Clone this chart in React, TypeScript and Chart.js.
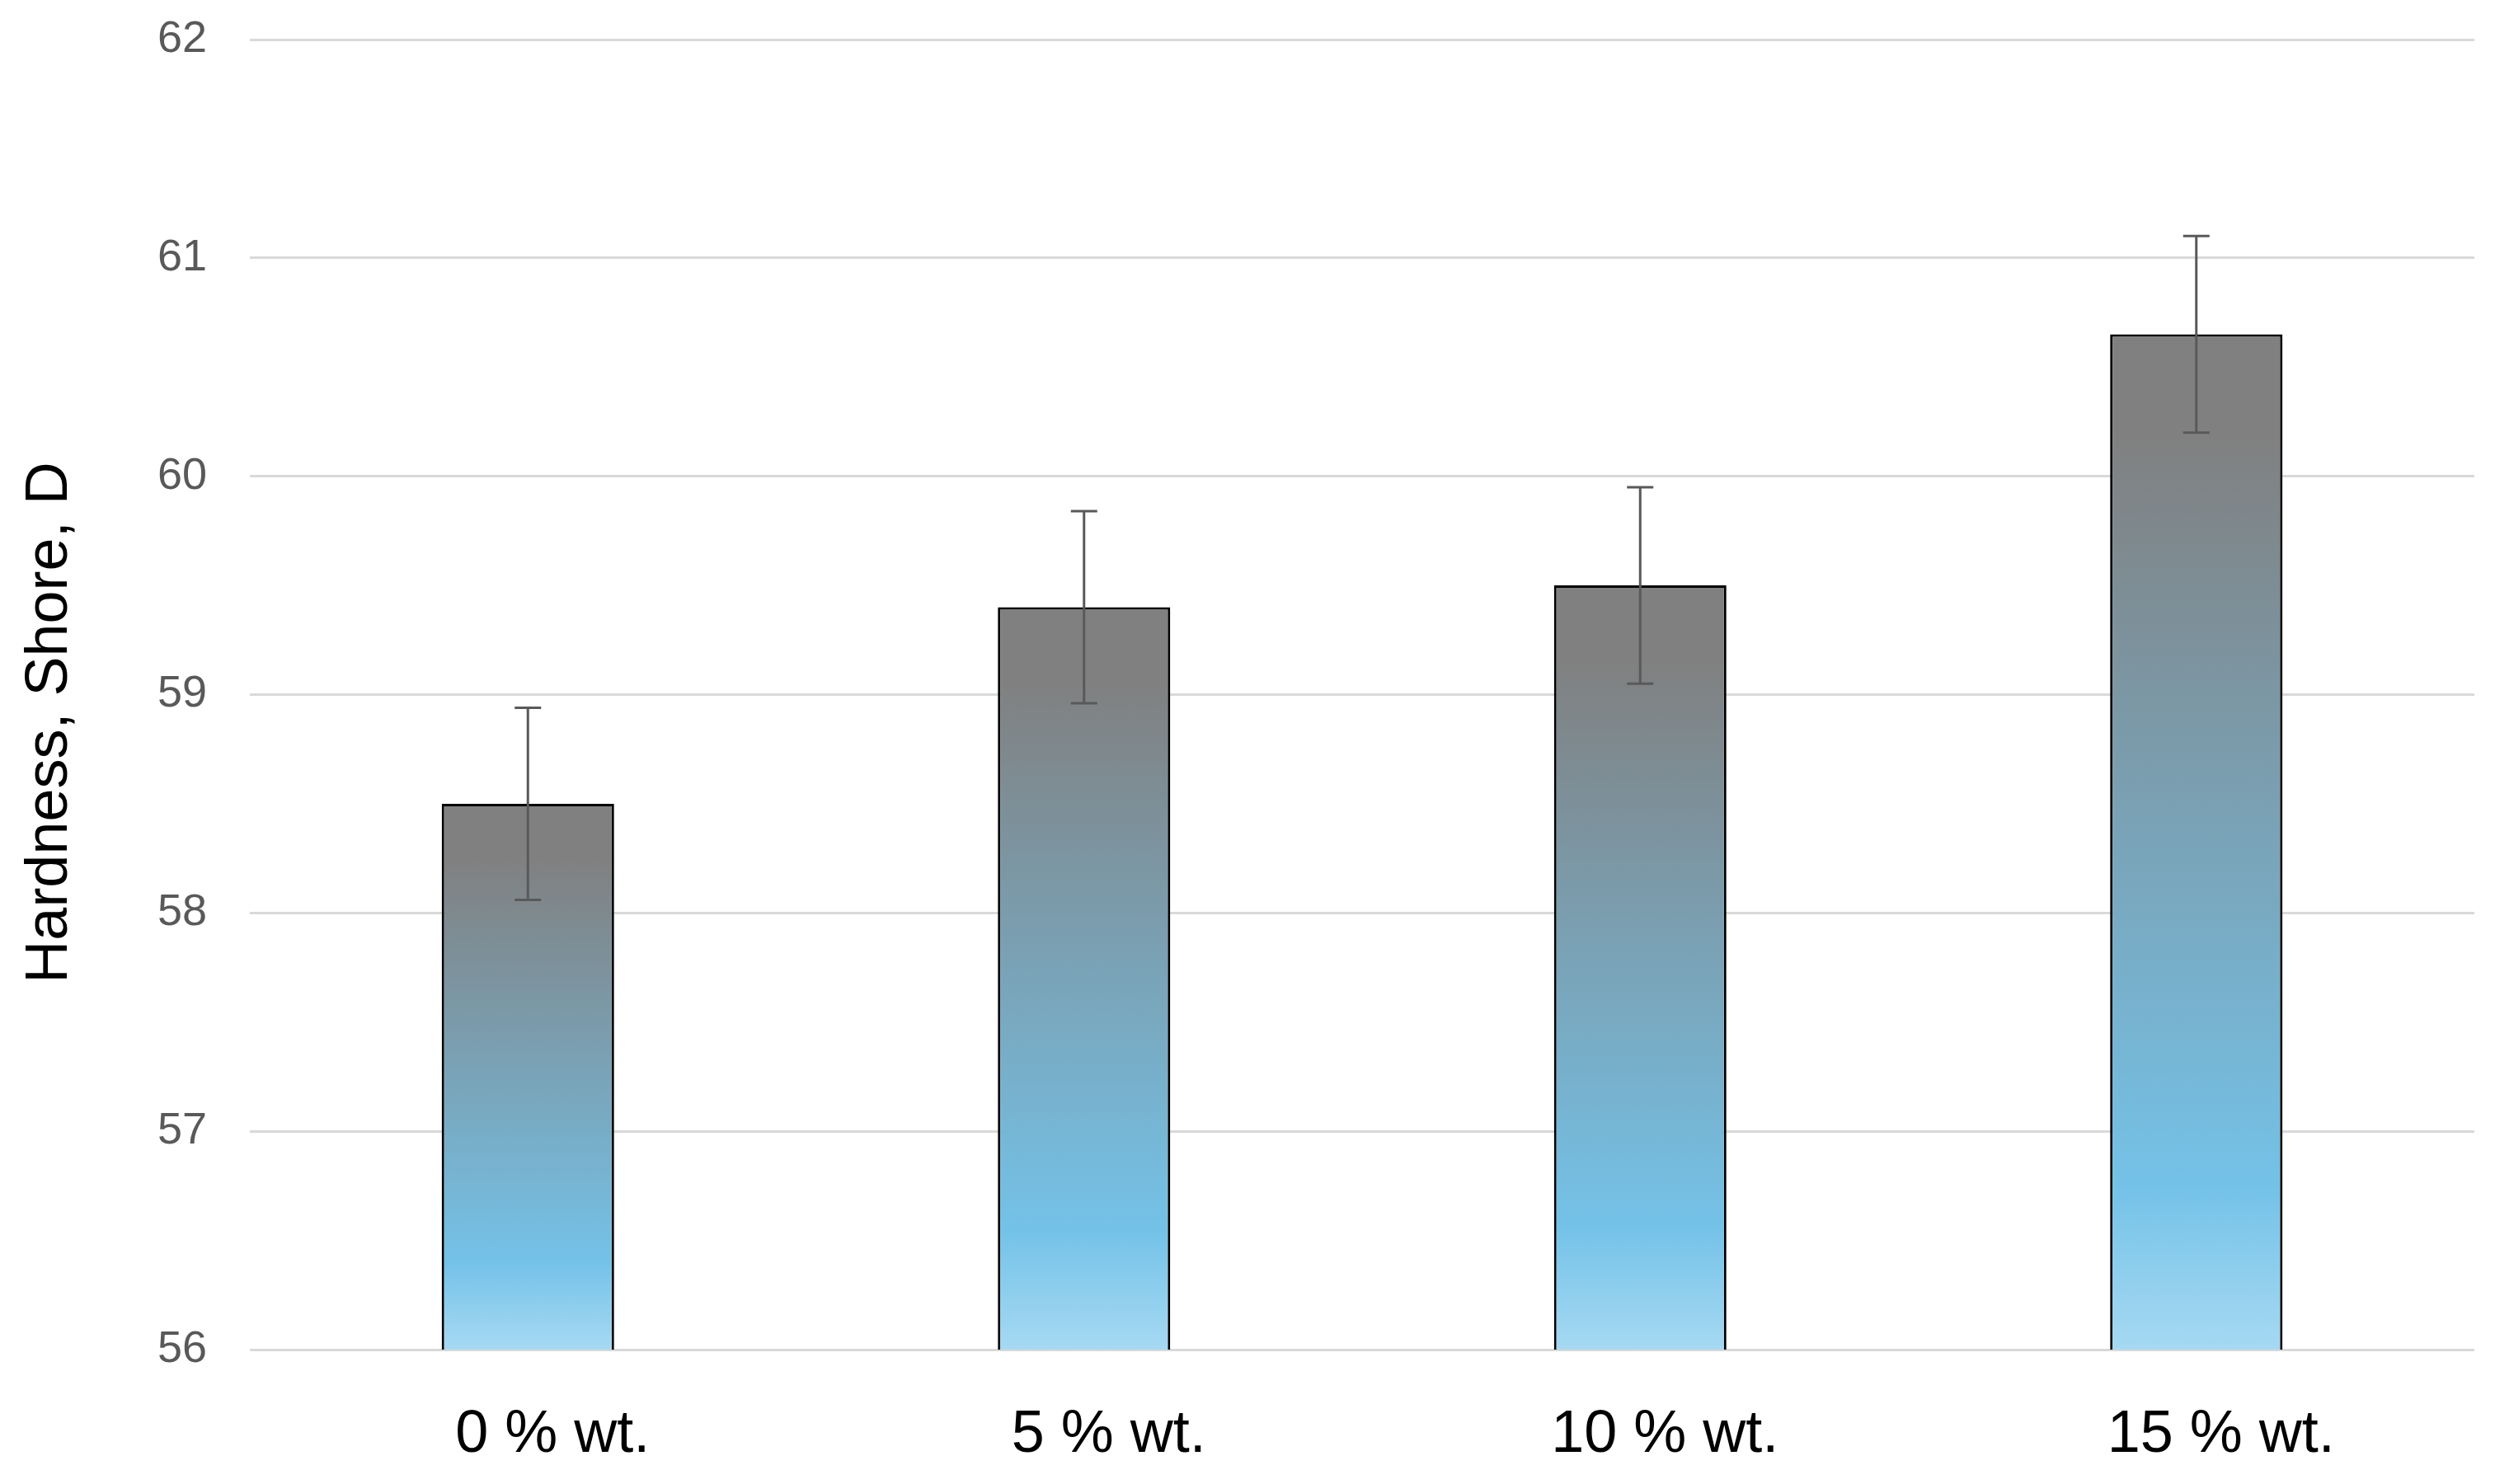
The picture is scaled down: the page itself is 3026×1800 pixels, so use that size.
import React, { useEffect, useRef } from "react";
import { Chart, registerables } from "chart.js";

Chart.register(...registerables);

const categories = ["0 % wt.", "5 % wt.", "10 % wt.", "15 % wt."];
const hardness = [58.5, 59.4, 59.5, 60.65];
const errors = [0.44, 0.44, 0.45, 0.45];
const yTicks = [56, 57, 58, 59, 60, 61, 62];
const yTitle = "Hardness, Shore, D";

const errorBarPlugin = {
  id: "errorBars",
  afterDatasetsDraw(chart: any) {
    const meta = chart.getDatasetMeta(0);
    const y = chart.scales.y;
    const ctx = chart.ctx;
    ctx.save();
    ctx.strokeStyle = "#595959";
    ctx.lineWidth = 3;
    meta.data.forEach((bar: any, i: number) => {
      const x = bar.x;
      const yt = y.getPixelForValue(hardness[i] + errors[i]);
      const yb = y.getPixelForValue(hardness[i] - errors[i]);
      const cap = 16;
      ctx.beginPath();
      ctx.moveTo(x, yt);
      ctx.lineTo(x, yb);
      ctx.moveTo(x - cap, yt);
      ctx.lineTo(x + cap, yt);
      ctx.moveTo(x - cap, yb);
      ctx.lineTo(x + cap, yb);
      ctx.stroke();
    });
    ctx.restore();
  },
};

const yTitlePlugin = {
  id: "yTitle",
  afterDraw(chart: any) {
    const ctx = chart.ctx;
    const area = chart.chartArea;
    ctx.save();
    ctx.translate(61, (area.top + area.bottom) / 2 + 34);
    ctx.rotate(-Math.PI / 2);
    ctx.fillStyle = "#000000";
    ctx.font = "72px 'Liberation Sans', Arial, sans-serif";
    ctx.textAlign = "center";
    ctx.textBaseline = "middle";
    ctx.fillText(yTitle, 0, 0);
    ctx.restore();
  },
};

export default function App() {
  const ref = useRef<HTMLCanvasElement | null>(null);
  useEffect(() => {
    if (!ref.current) return;
    const chart = new Chart(ref.current, {
      type: "bar",
      data: {
        labels: categories,
        datasets: [
          {
            data: hardness,
            backgroundColor: (c: any) => {
              const ch = c.chart;
              if (!ch.chartArea || c.type !== "data") return "#7aaac4";
              const ys = ch.scales.y;
              const top = ys.getPixelForValue(hardness[c.dataIndex]);
              const bottom = ys.getPixelForValue(ys.min);
              const g = ch.ctx.createLinearGradient(0, top, 0, bottom);
              g.addColorStop(0, "#808080");
              g.addColorStop(0.1, "#808080");
              g.addColorStop(0.84, "#74c2e8");
              g.addColorStop(1, "#a6d9f2");
              return g;
            },
            borderColor: "#000000",
            borderWidth: 3,
            categoryPercentage: 1,
            barPercentage: 0.31,
          },
        ],
      },
      options: {
        animation: false,
        responsive: false,
        maintainAspectRatio: false,
        devicePixelRatio: 1,
        layout: { padding: { top: 48, right: 25, left: 0, bottom: 0 } },
        plugins: {
          legend: { display: false },
          tooltip: { enabled: false },
        },
        scales: {
          x: {
            grid: { display: false, drawTicks: false },
            border: { display: false },
            ticks: {
              color: "#000000",
              font: { family: "'Liberation Sans', Arial, sans-serif", size: 72 },
              padding: 61,
              labelOffset: 30,
            },
            afterFit: (s: any) => {
              s.height = 163;
              s.paddingLeft = 0;
              s.paddingRight = 0;
            },
          },
          y: {
            min: 56,
            max: 62,
            afterBuildTicks: (s: any) => {
              s.ticks = yTicks.map((v) => ({ value: v }));
            },
            grid: { color: "#d9d9d9", lineWidth: 3, drawTicks: false },
            border: { display: false },
            ticks: {
              color: "#595959",
              font: { family: "'Liberation Sans', Arial, sans-serif", size: 54 },
              padding: 52,
            },
            title: { display: false },
            afterFit: (s: any) => {
              s.width = 303;
              s.paddingTop = 0;
              s.paddingBottom = 0;
            },
          },
        },
      },
      plugins: [errorBarPlugin, yTitlePlugin],
    });
    return () => chart.destroy();
  }, []);
  return (
    <div style={{ position: "fixed", left: 0, top: 0, width: 3026, height: 1800, background: "#fff" }}>
      <canvas ref={ref} width={3026} height={1800} style={{ width: 3026, height: 1800, display: "block" }} />
    </div>
  );
}
